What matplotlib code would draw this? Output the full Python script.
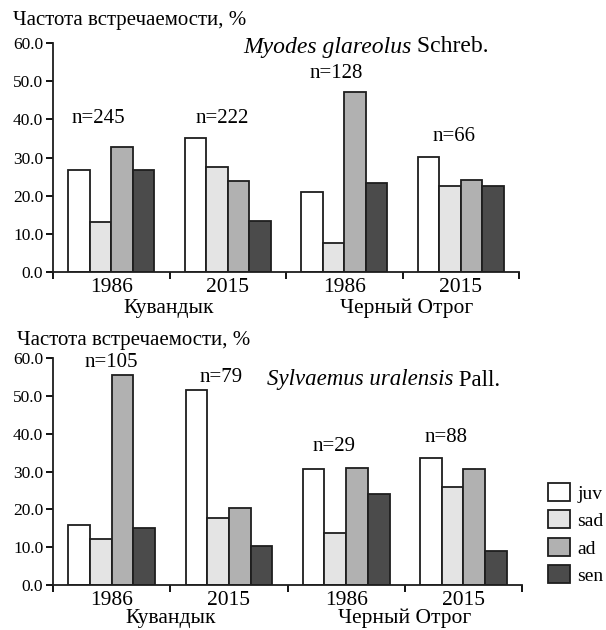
import numpy as np
import matplotlib
matplotlib.use("Agg")
import matplotlib.pyplot as plt
from matplotlib.patches import Patch

plt.rcParams['font.family'] = ['Liberation Serif', 'DejaVu Serif']

ages = ['juv', 'sad', 'ad', 'sen']
colors = ['#ffffff', '#e4e4e4', '#b1b1b1', '#4b4b4b']
years = ['1986', '2015', '1986', '2015']

# Myodes glareolus, values per group (juv, sad, ad, sen)
myodes = [
    [26.6, 13.0, 32.8, 26.8],
    [35.0, 27.4, 23.8, 13.5],
    [20.9, 7.7, 47.2, 23.2],
    [30.2, 22.5, 24.1, 22.5],
]
myodes_n = ['n=245', 'n=222', 'n=128', 'n=66']
myodes_n_pos = [(-0.11, 40.3), (0.95, 40.3), (1.93, 52.1), (2.94, 35.4)]

# Sylvaemus uralensis
sylv = [
    [15.9, 12.3, 55.5, 15.0],
    [51.7, 17.7, 20.3, 10.3],
    [30.8, 13.7, 30.9, 24.1],
    [33.7, 25.9, 30.6, 9.0],
]
sylv_n = ['n=105', 'n=79', 'n=29', 'n=88']
sylv_n_pos = [(0.0, 58.9), (0.93, 55.0), (1.90, 36.7), (2.85, 38.9)]

fig = plt.figure(figsize=(6.06, 6.3), dpi=100)
ax1 = fig.add_axes([0.0875, 0.568, 0.769, 0.364])
ax2 = fig.add_axes([0.0875, 0.0714, 0.774, 0.360])

w = 0.185
x = np.arange(4)


def draw(ax, data, nlabels, npos):
    data = np.array(data)
    for j in range(4):
        ax.bar(x + (j - 1.5) * w, data[:, j], width=w, color=colors[j],
               edgecolor='#1e1e1e', linewidth=1.3, zorder=2)
    for lab, (px, py) in zip(nlabels, npos):
        ax.text(px, py, lab, ha='center', va='center', fontsize=15)
    ax.set_xlim(-0.5, 3.5)
    ax.set_ylim(0, 60)
    ax.set_yticks(np.arange(0, 61, 10))
    ax.set_yticklabels(['%.1f' % v for v in np.arange(0, 61, 10)], fontsize=12.5)
    ax.set_xticks(x)
    ax.set_xticklabels(years, fontsize=15.5)
    ax.set_xticks(np.arange(-0.5, 4, 1), minor=True)
    ax.tick_params(axis='x', which='major', length=0, pad=4)
    ax.tick_params(axis='x', which='minor', length=5, width=1.3, direction='out')
    ax.tick_params(axis='y', length=5, width=1.3, direction='out', pad=2)
    for s in ['top', 'right']:
        ax.spines[s].set_visible(False)
    for s in ['left', 'bottom']:
        ax.spines[s].set_linewidth(1.3)
        ax.spines[s].set_color('#1e1e1e')


draw(ax1, myodes, myodes_n, myodes_n_pos)
draw(ax2, sylv, sylv_n, sylv_n_pos)

# y axis captions
fig.text(13 / 606, 1 - 21 / 630, 'Частота встречаемости, %', fontsize=15, va='center')
fig.text(17 / 606, 1 - 340 / 630, 'Частота встречаемости, %', fontsize=15, va='center')

# species titles
t1 = fig.text(243 / 606, 1 - 47 / 630, 'Myodes glareolus', style='italic',
              fontsize=17, va='center')
ax1.annotate(' Schreb.', xy=(1, 0), xycoords=t1, va='bottom', fontsize=17)
t2 = fig.text(267 / 606, 1 - 380 / 630, 'Sylvaemus uralensis', style='italic',
              fontsize=16.5, va='center')
ax2.annotate(' Pall.', xy=(1, 0), xycoords=t2, va='bottom', fontsize=16.5)

# location captions
fig.text(169 / 606, 1 - 308 / 630, 'Кувандык', fontsize=15.5, ha='center', va='center')
fig.text(407 / 606, 1 - 308 / 630, 'Черный Отрог', fontsize=15.5, ha='center', va='center')
fig.text(171 / 606, 2 / 630, 'Кувандык', fontsize=15.5, ha='center', va='bottom')
fig.text(405 / 606, 2 / 630, 'Черный Отрог', fontsize=15.5, ha='center', va='bottom')

handles = [Patch(facecolor=c, edgecolor='#1e1e1e', linewidth=1.3) for c in colors]
fig.legend(handles, ages, loc='center left', bbox_to_anchor=(0.905, 1 - 534 / 630),
           frameon=False, fontsize=14, handlelength=1.1, handleheight=1.05,
           labelspacing=0.4, handletextpad=0.4, borderpad=0, borderaxespad=0)

fig.savefig('out.png', dpi=100)
